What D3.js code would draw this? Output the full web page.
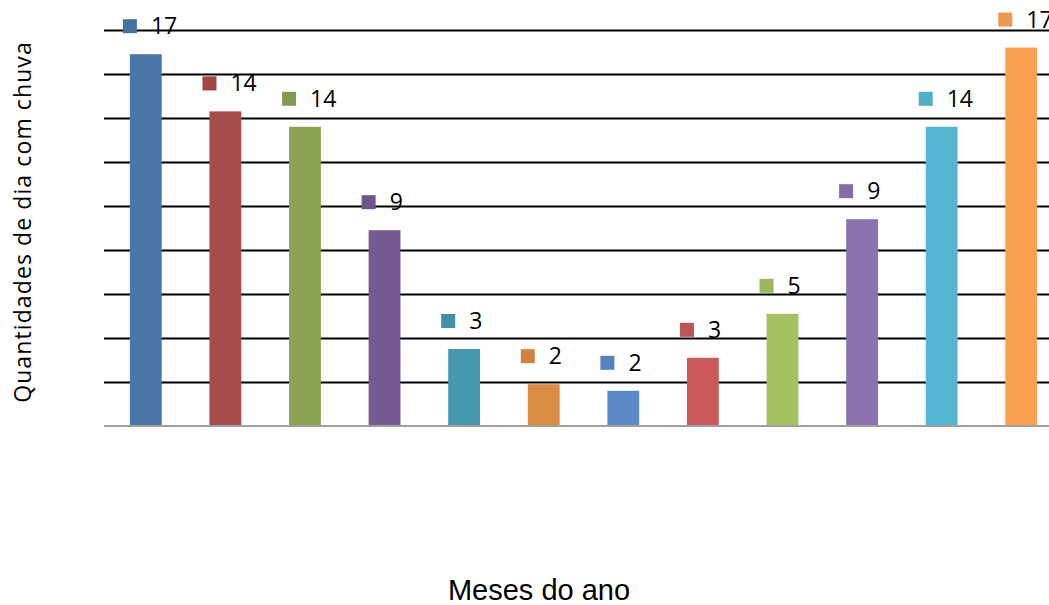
<!DOCTYPE html>
<html>
<head>
<meta charset="utf-8">
<script src="https://cdn.jsdelivr.net/npm/d3@7"></script>
<style>
  body { margin: 0; background: #fff; }
  svg { display: block; }
</style>
</head>
<body>
<div id="chart"></div>
<script>
// data
var meses = ["jan", "fev", "mar", "abr", "mai", "jun", "jul", "ago", "set", "out", "nov", "dez"];
var dias = [16.9, 14.3, 13.6, 8.9, 3.5, 1.9, 1.6, 3.1, 5.1, 9.4, 13.6, 17.2];
var rotulos = ["17", "14", "14", "9", "3", "2", "2", "3", "5", "9", "14", "17"];
var cores = ["#4a76a8", "#a84b4b", "#8aa453", "#745a91", "#4698ad", "#d98a43",
             "#5b8ac7", "#c95a57", "#a4c262", "#8c72ae", "#55b6d1", "#f9a051"];
var yTicks = [0, 2, 4, 6, 8, 10, 12, 14, 16, 18];

var width = 1049, height = 605;

var svg = d3.select("#chart")
  .append("svg")
  .attr("width", width)
  .attr("height", height);

var x = d3.scaleBand()
  .domain(meses)
  .range([106, 1061])
  .paddingInner(0.6)
  .paddingOuter(0.3);

var y = d3.scaleLinear()
  .domain([0, 18])
  .range([426, 30]);

// gridlines (no labels on the axis)
var grid = svg.append("g")
  .attr("transform", "translate(104,0)")
  .call(d3.axisLeft(y).tickValues(yTicks.slice(1)).tickSize(-950).tickFormat(""));
grid.select(".domain").remove();
grid.selectAll(".tick line")
  .attr("stroke", "#000")
  .attr("stroke-width", 2);

// bars
svg.selectAll(".bar")
  .data(dias)
  .enter().append("rect")
  .attr("class", "bar")
  .attr("x", function(d, i) { return x(meses[i]); })
  .attr("y", function(d) { return y(d); })
  .attr("width", x.bandwidth())
  .attr("height", function(d) { return y(0) - y(d); })
  .attr("fill", function(d, i) { return cores[i]; });

// baseline
svg.append("line")
  .attr("x1", 104).attr("x2", width)
  .attr("y1", y(0)).attr("y2", y(0))
  .attr("stroke", "#a0a0a0")
  .attr("stroke-width", 2);

// data labels: small coloured square + number
var labels = svg.selectAll(".lbl")
  .data(dias)
  .enter().append("g")
  .attr("class", "lbl")
  .attr("transform", function(d, i) {
    return "translate(" + x(meses[i]) + "," + y(d) + ")";
  });

labels.append("rect")
  .attr("x", -7)
  .attr("y", -35)
  .attr("width", 14)
  .attr("height", 14)
  .attr("fill", function(d, i) { return d3.color(cores[i]).darker(0.15); });

labels.append("text")
  .attr("x", 21)
  .attr("y", -20)
  .style("font-family", "'Open Sans', sans-serif")
  .style("font-size", "23px")
  .style("fill", "#000")
  .text(function(d, i) { return rotulos[i]; });

// axis titles
svg.append("text")
  .attr("transform", "translate(31,222) rotate(-90)")
  .attr("text-anchor", "middle")
  .style("font-family", "'Open Sans', sans-serif")
  .style("font-size", "23px")
  .style("letter-spacing", "1.1px")
  .text("Quantidades de dia com chuva");

svg.append("text")
  .attr("x", 539)
  .attr("y", 600)
  .attr("text-anchor", "middle")
  .style("font-family", "'Liberation Sans', Arial, sans-serif")
  .style("font-size", "29px")
  .text("Meses do ano");
</script>
</body>
</html>
